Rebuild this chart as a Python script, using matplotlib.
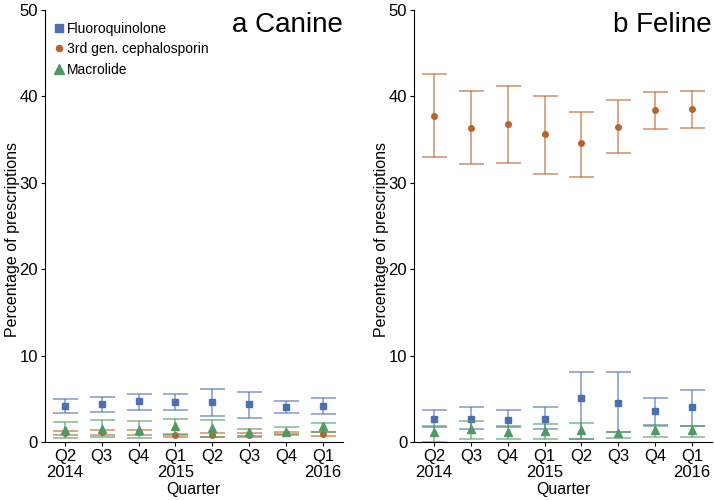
import numpy as np
import matplotlib
matplotlib.use("Agg")
import matplotlib.pyplot as plt

plt.rcParams["font.family"] = ["Liberation Sans", "DejaVu Sans"]

quarters = ["Q2\n2014", "Q3", "Q4", "Q1\n2015", "Q2", "Q3", "Q4", "Q1\n2016"]
series = ["Fluoroquinolone", "3rd gen. cephalosporin", "Macrolide"]

# canine: estimate, lower, upper
canine_fq = [4.2, 4.4, 4.7, 4.6, 4.6, 4.4, 4.0, 4.2]
canine_fq_lo = [3.3, 3.5, 3.7, 3.7, 3.0, 2.8, 3.3, 3.2]
canine_fq_hi = [5.0, 5.2, 5.6, 5.6, 6.1, 5.8, 4.8, 5.1]
canine_ceph = [1.0, 1.1, 1.1, 0.8, 0.8, 0.8, 1.0, 0.9]
canine_ceph_lo = [0.8, 0.8, 0.8, 0.6, 0.6, 0.6, 0.9, 0.7]
canine_ceph_hi = [1.3, 1.4, 1.4, 0.9, 1.0, 1.0, 1.1, 1.1]
canine_mac = [1.4, 1.5, 1.4, 1.8, 1.6, 1.1, 1.2, 1.8]
canine_mac_lo = [0.5, 0.6, 0.5, 0.8, 0.6, 0.7, 0.8, 1.2]
canine_mac_hi = [2.3, 2.5, 2.4, 2.7, 2.6, 1.5, 1.7, 2.2]

# feline
feline_fq = [2.7, 2.7, 2.6, 2.7, 5.1, 4.5, 3.6, 4.0]
feline_fq_lo = [1.7, 1.5, 1.7, 1.5, 0.3, 1.1, 2.0, 1.9]
feline_fq_hi = [3.7, 4.1, 3.7, 4.0, 8.1, 8.1, 5.1, 6.0]
feline_ceph = [37.7, 36.4, 36.8, 35.6, 34.6, 36.5, 38.4, 38.5]
feline_ceph_lo = [33.0, 32.2, 32.3, 31.0, 30.7, 33.4, 36.2, 36.3]
feline_ceph_hi = [42.6, 40.6, 41.2, 40.0, 38.2, 39.6, 40.5, 40.6]
feline_mac = [1.1, 1.5, 1.2, 1.3, 1.4, 1.0, 1.4, 1.4]
feline_mac_lo = [0.0, 0.4, 0.4, 0.3, 0.4, 0.5, 0.6, 0.6]
feline_mac_hi = [1.9, 2.4, 1.8, 2.1, 2.2, 1.2, 1.8, 1.8]

colors = ["#4C6FB1", "#B8642A", "#4E9A62"]
markers = ["s", "o", "^"]
msizes = [5, 4, 6]

fig = plt.figure(figsize=(7.14, 5.0), dpi=100)
ax1 = fig.add_axes([0.063, 0.116, 0.417, 0.864])
ax2 = fig.add_axes([0.580, 0.116, 0.417, 0.864])

panels = [
    (ax1, "a Canine", [(canine_fq, canine_fq_lo, canine_fq_hi),
                       (canine_ceph, canine_ceph_lo, canine_ceph_hi),
                       (canine_mac, canine_mac_lo, canine_mac_hi)]),
    (ax2, "b Feline", [(feline_fq, feline_fq_lo, feline_fq_hi),
                       (feline_ceph, feline_ceph_lo, feline_ceph_hi),
                       (feline_mac, feline_mac_lo, feline_mac_hi)]),
]

x = np.arange(1, len(quarters) + 1)
for ax, title, data in panels:
    for (est, lo, hi), c, m, ms, name in zip(data, colors, markers, msizes, series):
        est = np.array(est); lo = np.array(lo); hi = np.array(hi)
        ax.errorbar(x, est, yerr=[est - lo, hi - est], fmt="none", ecolor=c,
                    elinewidth=1.3, capsize=9, capthick=1.3, alpha=0.6)
        ax.plot(x, est, linestyle="none", marker=m, color=c, markersize=ms, label=name)
    ax.set_xlim(0.46, 8.54)
    ax.set_ylim(0, 50)
    ax.set_yticks([0, 10, 20, 30, 40, 50])
    ax.set_xticks(x)
    ax.set_xticklabels(quarters, fontsize=12, linespacing=1.05)
    ax.tick_params(axis="y", labelsize=12, length=3, pad=2)
    ax.tick_params(axis="x", length=3, pad=2)
    for s in ["top", "right"]:
        ax.spines[s].set_visible(False)
    ax.set_ylabel("Percentage of prescriptions", fontsize=11.5)
    ax.yaxis.set_label_coords(-0.085, 0.468)
    ax.set_xlabel("Quarter", fontsize=11.5, labelpad=2)
    ax.text(1.0, 0.965, title, transform=ax.transAxes, ha="right", va="center", fontsize=20)

ax1.legend(loc="upper left", bbox_to_anchor=(0.027, 0.972), frameon=False, fontsize=10,
           handletextpad=0.1, handlelength=0.9, labelspacing=0.45, borderaxespad=0.0,
           borderpad=0.0, markerscale=1.1)

fig.savefig("out.png", dpi=100)
